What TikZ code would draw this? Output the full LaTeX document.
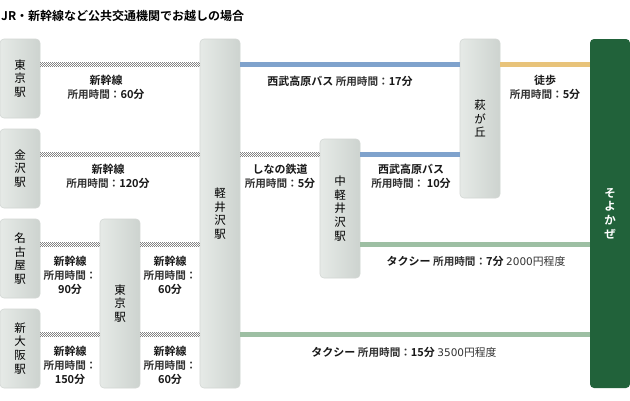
\documentclass[tikz,border=0pt]{standalone}
\usepackage{fontspec}
\setmainfont{Noto Sans CJK JP}[BoldFont={Noto Sans CJK JP Bold}]
\newfontfamily\digitfont{DejaVu Sans}
\definecolor{boxl}{HTML}{E6EAE7}
\definecolor{boxr}{HTML}{CDD3CF}
\definecolor{boxb}{HTML}{D3D7D4}
\definecolor{railc}{HTML}{858585}
\definecolor{busc}{HTML}{7FA2CC}
\definecolor{walkc}{HTML}{E8C37A}
\definecolor{taxic}{HTML}{9DBFA3}
\definecolor{soyoc}{HTML}{21623A}
\definecolor{txtc}{HTML}{333333}
\newcommand\shoyo{{\fontsize{10.6}{14}\selectfont\color{txtc}所用時間：}}
\newcommand\bnum[1]{{\bfseries #1}}
\newcommand\yen[1]{{\mdseries\color{txtc}{\digitfont\fontsize{10.5}{14}\selectfont #1}{\fontsize{10.8}{14}\selectfont 円程度}}}
\begin{document}
\begin{tikzpicture}[x=1pt,y=-1pt,
  stn/.style={rectangle, rounded corners=4pt, left color=boxl, right color=boxr, draw=boxb, line width=0.6pt,
     inner sep=0pt, minimum width=40pt, align=center, text=black, font=\fontsize{11.5}{13.7}\selectfont},
  goal/.style={rectangle, rounded corners=4pt, fill=soyoc, inner sep=0pt, minimum width=40pt, align=center,
     text=white, font=\bfseries\fontsize{11.5}{13.7}\selectfont},
  railrow/.style={draw=railc, line width=1pt, dash pattern=on 1pt off 1pt},
  rail/.style={draw=none,
    postaction={railrow, transform canvas={yshift=2pt}},
    postaction={railrow, dash phase=1pt, transform canvas={yshift=1pt}},
    postaction={railrow},
    postaction={railrow, dash phase=1pt, transform canvas={yshift=-1pt}},
    postaction={railrow, transform canvas={yshift=-2pt}}},
  bus/.style={draw=busc, line width=4.6pt},
  walk/.style={draw=walkc, line width=4.6pt},
  taxi/.style={draw=taxic, line width=4.6pt},
  lbl/.style={align=center, inner sep=0pt, font=\bfseries\fontsize{11}{14}\selectfont, text=black!90},
]
\useasboundingbox (0,0) rectangle (630,400);
\fill[white] (0,0) rectangle (630,400);

\node[anchor=west, inner sep=0pt, font=\bfseries\fontsize{12}{14}\selectfont] (title) at (1,16) {JR・新幹線など公共交通機関でお越しの場合};

% stations
\node[stn, minimum height=79pt] (tokyoA) at (20,78.5) {東\\京\\駅};
\node[stn, minimum height=79pt] (kanazawa) at (20,168.5) {金\\沢\\駅};
\node[stn, minimum height=79pt] (nagoya) at (20,258.5) {名\\古\\屋\\駅};
\node[stn, minimum height=79pt] (osaka) at (20,348.5) {新\\大\\阪\\駅};
\node[stn, minimum height=169pt] (tokyoB) at (120,303.5) {東\\京\\駅};
\node[stn, minimum height=349pt] (karui) at (220,213.5) {軽\\井\\沢\\駅};
\node[stn, minimum height=139pt] (naka) at (340,208.5) {中\\軽\\井\\沢\\駅};
\node[stn, minimum height=159pt] (hagi) at (480,118.5) {萩\\が\\丘};
\node[goal, minimum height=349pt] (soyo) at (610,213.5) {そ\\よ\\か\\ぜ};

% connectors
\draw[rail] (tokyoA.east |- 0,64.5) -- (karui.west |- 0,64.5);
\draw[rail] (kanazawa.east |- 0,154.5) -- (karui.west |- 0,154.5);
\draw[rail] (nagoya.east |- 0,244.5) -- (tokyoB.west |- 0,244.5);
\draw[rail] (tokyoB.east |- 0,244.5) -- (karui.west |- 0,244.5);
\draw[rail] (osaka.east |- 0,334.5) -- (tokyoB.west |- 0,334.5);
\draw[rail] (tokyoB.east |- 0,334.5) -- (karui.west |- 0,334.5);
\draw[rail] (karui.east |- 0,154.5) -- (naka.west |- 0,154.5);
\draw[bus] (karui.east |- 0,64.5) -- (hagi.west |- 0,64.5);
\draw[bus] (naka.east |- 0,154.5) -- (hagi.west |- 0,154.5);
\draw[walk] (hagi.east |- 0,64.5) -- (soyo.west |- 0,64.5);
\draw[taxi] (naka.east |- 0,244.5) -- (soyo.west |- 0,244.5);
\draw[taxi] (karui.east |- 0,334.5) -- (soyo.west |- 0,334.5);

% labels
\node[lbl] (l1) at (106,87) {新幹線\\\shoyo\bnum{60分}};
\node[lbl] (l2) at (108,176) {新幹線\\\shoyo\bnum{120分}};
\node[lbl] (l3) at (70,275) {新幹線\\\shoyo\\\bnum{90分}};
\node[lbl] (l4) at (170,275) {新幹線\\\shoyo\\\bnum{60分}};
\node[lbl] (l5) at (70,365) {新幹線\\\shoyo\\\bnum{150分}};
\node[lbl] (l6) at (170,365) {新幹線\\\shoyo\\\bnum{60分}};
\node[lbl] (l7) at (340,81) {西武高原バス {\shoyo}17分};
\node[lbl] (l8) at (545,87) {徒歩\\\shoyo\bnum{5分}};
\node[lbl] (l9) at (280,176) {しなの鉄道\\\shoyo\bnum{5分}};
\node[lbl] (l10) at (411,176) {西武高原バス\\\shoyo\ \bnum{10分}};
\node[lbl] (l11) at (476,261) {タクシー {\shoyo}7分 \yen{2000}};
\node[lbl] (l12) at (404,352) {タクシー {\shoyo}15分 \yen{3500}};
\end{tikzpicture}
\end{document}
